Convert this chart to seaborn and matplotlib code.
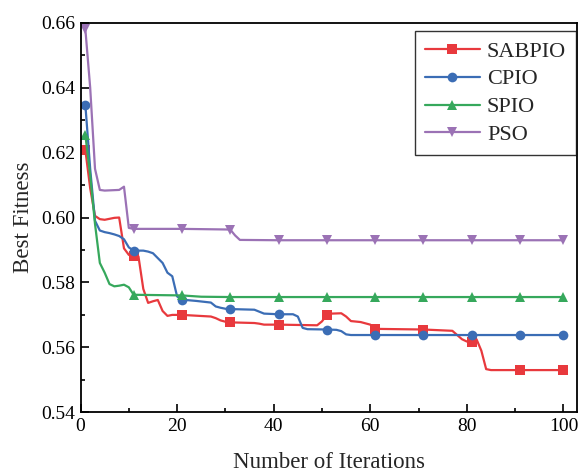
import matplotlib
matplotlib.use("Agg")
import matplotlib.pyplot as plt
import seaborn as sns
from matplotlib.ticker import MultipleLocator

# ---- data ----
marker_iters = [1, 11, 21, 31, 41, 51, 61, 71, 81, 91, 100]

sabpio_x = [1, 2, 3, 4, 5, 6, 7, 8, 9, 10, 11, 12, 13, 14, 15, 16, 17, 18, 19, 21,
            27, 28, 29, 30, 31, 36, 37, 38, 41, 49, 50, 51, 52, 54, 55, 56, 58, 60,
            61, 71, 77, 78, 79, 80, 81, 82, 83, 84, 85, 91, 100]
sabpio_y = [0.6208, 0.6090, 0.6005, 0.5995, 0.5993, 0.5996, 0.5999, 0.6000, 0.5905,
            0.5885, 0.5880, 0.5880, 0.5780, 0.5737, 0.5742, 0.5746, 0.5712, 0.5697,
            0.5700, 0.5700, 0.5695, 0.5690, 0.5683, 0.5679, 0.5677, 0.5675, 0.5673,
            0.5670, 0.5670, 0.5668, 0.5680, 0.5700, 0.5704, 0.5705, 0.5695, 0.5681,
            0.5678, 0.5670, 0.5657, 0.5655, 0.5651, 0.5638, 0.5625, 0.5618, 0.5618,
            0.5625, 0.5590, 0.5533, 0.5530, 0.5530, 0.5530]

cpio_x = [1, 2, 3, 4, 5, 6, 7, 8, 9, 10, 11, 13, 14, 15, 16, 17, 18, 19, 20, 21,
          24, 27, 28, 29, 30, 31, 36, 37, 38, 41, 44, 45, 46, 47, 51, 53, 54, 55,
          56, 61, 71, 81, 91, 100]
cpio_y = [0.6347, 0.6150, 0.5990, 0.5960, 0.5955, 0.5952, 0.5948, 0.5943, 0.5933,
          0.5908, 0.5898, 0.5898, 0.5895, 0.5890, 0.5875, 0.5860, 0.5830, 0.5819,
          0.5757, 0.5747, 0.5743, 0.5738, 0.5726, 0.5722, 0.5719, 0.5718, 0.5716,
          0.5710, 0.5704, 0.5702, 0.5702, 0.5695, 0.5660, 0.5656, 0.5655, 0.5654,
          0.5650, 0.5640, 0.5638, 0.5638, 0.5638, 0.5638, 0.5638, 0.5638]

spio_x = [1, 2, 3, 4, 5, 6, 7, 8, 9, 10, 11, 21, 25, 31, 41, 51, 61, 71, 81, 91, 100]
spio_y = [0.6254, 0.6130, 0.5980, 0.5860, 0.5830, 0.5795, 0.5788, 0.5790, 0.5793,
          0.5785, 0.5762, 0.5760, 0.5756, 0.5755, 0.5755, 0.5755, 0.5755, 0.5755,
          0.5755, 0.5755, 0.5755]

pso_x = [1, 2, 3, 4, 5, 8, 9, 10, 11, 21, 31, 32, 33, 41, 51, 61, 71, 81, 91, 100]
pso_y = [0.6580, 0.6400, 0.6150, 0.6085, 0.6083, 0.6085, 0.6095, 0.5968, 0.5965,
         0.5965, 0.5963, 0.5945, 0.5931, 0.5930, 0.5930, 0.5930, 0.5930, 0.5930,
         0.5930, 0.5930]

names = ["SABPIO", "CPIO", "SPIO", "PSO"]
colors = ["#e8393d", "#3b6db5", "#36a85c", "#9b72b5"]
markers = ["s", "o", "^", "v"]
xs = [sabpio_x, cpio_x, spio_x, pso_x]
ys = [sabpio_y, cpio_y, spio_y, pso_y]

x_ticks = [0, 20, 40, 60, 80, 100]
y_ticks = [0.54, 0.56, 0.58, 0.60, 0.62, 0.64, 0.66]

# ---- drawing ----
sns.set_style("ticks")
plt.rcParams["font.family"] = ["Liberation Serif", "DejaVu Serif"]

fig = plt.figure(figsize=(5.81, 4.74), dpi=100)
ax = fig.add_axes([0.1386, 0.1302, 0.8544, 0.8218])

for name, c, m, x, y in zip(names, colors, markers, xs, ys):
    idx = [i for i, v in enumerate(x) if v in marker_iters]
    sns.lineplot(x=x, y=y, ax=ax, color=c, marker=m, markevery=idx,
                 markersize=7, markeredgewidth=0, linewidth=1.6, label=name,
                 sort=False, estimator=None)

ax.set_xlim(0, 102.8)
ax.set_ylim(0.54, 0.66)
ax.set_xticks(x_ticks)
ax.set_yticks(y_ticks)
ax.set_yticklabels([f"{v:.2f}" for v in y_ticks])
ax.xaxis.set_minor_locator(MultipleLocator(10))
ax.yaxis.set_minor_locator(MultipleLocator(0.01))
ax.tick_params(which="both", direction="in", labelsize=14, width=1.2, colors="black")
ax.tick_params(which="major", length=6, pad=4)
ax.tick_params(which="minor", length=3)
for s in ax.spines.values():
    s.set_visible(True)
    s.set_linewidth(1.3)
    s.set_color("black")

ax.set_xlabel("Number of Iterations", fontsize=16.5, labelpad=12)
ax.set_ylabel("Best Fitness", fontsize=16.5, labelpad=5)

leg = ax.legend(loc="upper right", bbox_to_anchor=(576 / 581, 1 - 31 / 474),
                bbox_transform=fig.transFigure,
                fontsize=16, frameon=True, fancybox=False,
                edgecolor="black", handlelength=2.5, handletextpad=0.3,
                borderpad=0.45, labelspacing=0.33, borderaxespad=0.0)
leg.get_frame().set_linewidth(1.0)

fig.savefig("out.png", dpi=100)
